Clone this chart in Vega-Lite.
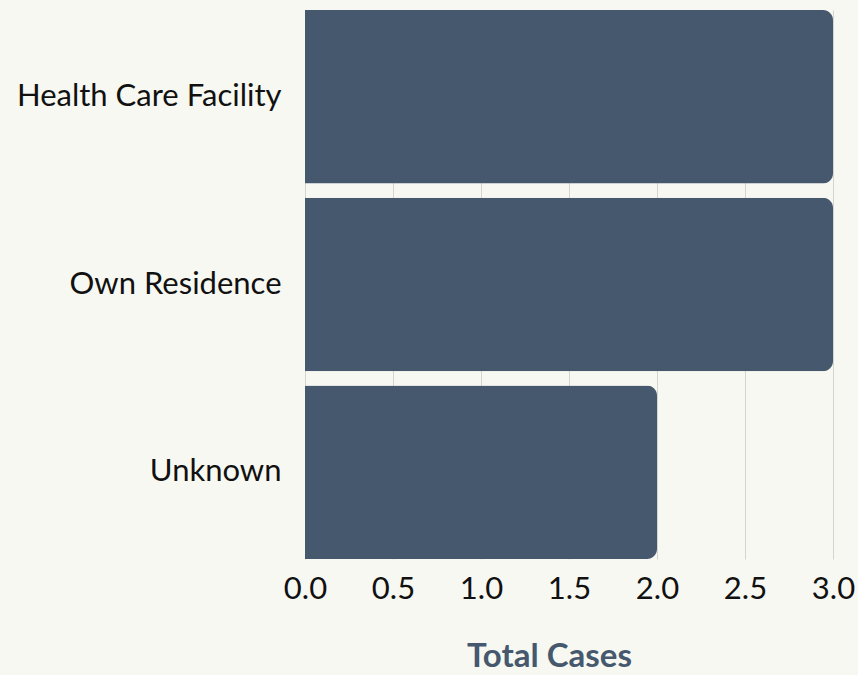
{
  "$schema": "https://vega.github.io/schema/vega-lite/v6.json",
  "autosize": "none",
  "width": 528,
  "height": 549,
  "padding": {"left": 305, "top": 10, "right": 25, "bottom": 116},
  "background": "#f7f8f1",
  "config": {"view": {"stroke": null}, "font": "Lato"},
  "data": {"values": [
    {"location": "Health Care Facility", "cases": 3},
    {"location": "Own Residence", "cases": 3},
    {"location": "Unknown", "cases": 2}
  ]},
  "mark": {"type": "bar", "color": "#46586e", "cornerRadiusEnd": 10},
  "encoding": {
    "y": {
      "field": "location", "type": "nominal", "sort": null,
      "scale": {"paddingInner": 0.075, "paddingOuter": 0},
      "axis": {"title": null, "domain": false, "ticks": false, "labelFontSize": 31, "labelColor": "#111111", "labelPadding": 24, "labelLimit": 400}
    },
    "x": {
      "field": "cases", "type": "quantitative",
      "scale": {"domain": [0, 3], "nice": false},
      "axis": {"title": "Total Cases", "values": [0, 0.5, 1, 1.5, 2, 2.5, 3], "format": ".1f", "domain": false, "ticks": false, "grid": true, "gridColor": "#d4d4d0", "labelFlush": false, "labelAlign": "center", "labelFontSize": 31, "labelColor": "#111111", "labelPadding": 15, "titleFontSize": 33, "titleFontWeight": "bold", "titleColor": "#46586e", "titlePadding": 36, "titleX": 244, "titleAlign": "center", "titleAnchor": null}
    }
  }
}
